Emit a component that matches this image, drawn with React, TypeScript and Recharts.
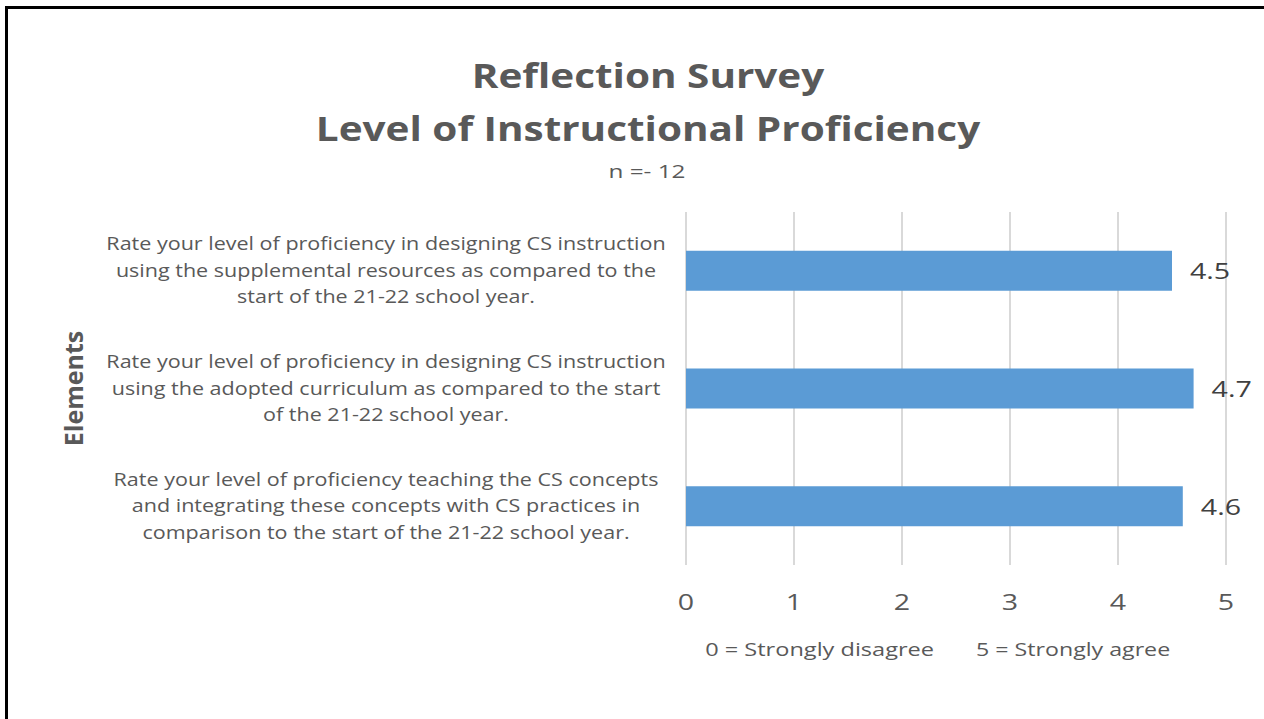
import React from "react";
import { BarChart, Bar, XAxis, YAxis, CartesianGrid, LabelList, Label } from "recharts";

const categoryLines: string[][] = [
  [
    "Rate your level of proficiency in designing CS instruction",
    "using the supplemental resources as compared to the",
    "start of the 21-22 school year.",
  ],
  [
    "Rate your level of proficiency in designing CS instruction",
    "using the adopted curriculum as compared to the start",
    "of the 21-22 school year.",
  ],
  [
    "Rate your level of proficiency teaching the CS concepts",
    "and integrating these concepts with CS practices in",
    "comparison to the start of the 21-22 school year.",
  ],
];
const categories: string[] = categoryLines.map((l) => l.join(" "));
const values: number[] = [4.5, 4.7, 4.6];
const xTicks: number[] = [0, 1, 2, 3, 4, 5];

const titleLines = ["Reflection Survey", "Level of Instructional Proficiency"];
const subtitle = "n =- 12";
const yAxisTitle = "Elements";
const scaleNote = ["0 = Strongly disagree", "5 = Strongly agree"];

const data = categories.map((name, i) => ({ name, value: values[i] }));

const GRAY = "#595959";
const FONT = "'Open Sans', sans-serif";

const CategoryTick = (props: any) => {
  const { x, y, payload } = props;
  const idx = categories.indexOf(payload.value);
  const lines = categoryLines[idx] || [payload.value];
  const lh = 26.5;
  const cx = x - 292;
  return (
    <text
      transform={`translate(${cx},${y}) scale(1.23,1)`}
      textAnchor="middle"
      fill={GRAY}
      fontSize={17.5}
      fontFamily={FONT}
    >
      {lines.map((l, i) => (
        <tspan key={i} x={0} y={(i - (lines.length - 1) / 2) * lh} dy="0.35em">
          {l}
        </tspan>
      ))}
    </text>
  );
};

const NumTick = (props: any) => {
  const { x, y, payload } = props;
  return (
    <text
      transform={`translate(${x},${y + 37}) scale(1.3,1)`}
      textAnchor="middle"
      fill={GRAY}
      fontSize={22}
      fontFamily={FONT}
    >
      {payload.value}
    </text>
  );
};

const ValueLabel = (props: any) => {
  const { x, y, width, height, value } = props;
  const lx = x + width + 18;
  const ly = y + height / 2;
  return (
    <text
      transform={`translate(${lx},${ly}) scale(1.3,1)`}
      textAnchor="start"
      dominantBaseline="central"
      fill="#404040"
      fontSize={22}
      fontFamily={FONT}
    >
      {value}
    </text>
  );
};

export default function App() {
  return (
    <div
      style={{
        position: "absolute",
        left: 5,
        top: 6,
        width: 1259,
        height: 713,
        borderLeft: "3px solid #000",
        borderTop: "3px solid #000",
        background: "#fff",
        fontFamily: FONT,
        overflow: "hidden",
      }}
    >
      <div
        style={{
          position: "absolute",
          left: 0,
          top: 40,
          width: 1280,
          textAlign: "center",
          color: GRAY,
          fontWeight: 700,
          fontSize: 34,
          lineHeight: "53px",
          transform: "scaleX(1.19)",
          transformOrigin: "640px 0",
        }}
      >
        <div>{titleLines[0]}</div>
        <div>{titleLines[1]}</div>
      </div>
      <div
        style={{
          position: "absolute",
          left: 0,
          top: 150,
          width: 1278,
          textAlign: "center",
          color: GRAY,
          fontSize: 18,
          transform: "scaleX(1.35)",
          transformOrigin: "639px 0",
        }}
      >
        {subtitle}
      </div>
      <div style={{ position: "absolute", left: 0, top: 0 }}>
        <BarChart
          width={1256}
          height={700}
          data={data}
          layout="vertical"
          margin={{ top: 203, right: 38, bottom: 54, left: 0 }}
          barCategoryGap="33%"
        >
          <CartesianGrid horizontal={false} stroke="#d9d9d9" strokeWidth={2} />
          <XAxis
            type="number"
            domain={[0, 5]}
            ticks={xTicks}
            axisLine={false}
            tickLine={false}
            tick={<NumTick />}
            height={90}
            interval={0}
          >
            <Label
              content={(p: any) => {
                const vb = p.viewBox;
                const cx = vb.x + vb.width / 2 - 22;
                const cy = vb.y + 91;
                return (
                  <g fill={GRAY} fontSize={19} fontFamily={FONT}>
                    <text transform={`translate(${cx},${cy}) scale(1.24,1)`} textAnchor="end">
                      {scaleNote[0]}
                    </text>
                    <text transform={`translate(${cx + 42},${cy}) scale(1.22,1)`} textAnchor="start">
                      {scaleNote[1]}
                    </text>
                  </g>
                );
              }}
            />
          </XAxis>
          <YAxis
            type="category"
            dataKey="name"
            width={678}
            axisLine={false}
            tickLine={false}
            tick={<CategoryTick />}
            interval={0}
          >
            <Label
              content={(p: any) => {
                const vb = p.viewBox;
                const cx = 65;
                const cy = vb.y + vb.height / 2;
                return (
                  <text
                    x={cx}
                    y={cy}
                    transform={`rotate(-90 ${cx} ${cy})`}
                    textAnchor="middle"
                    dominantBaseline="central"
                    fill={GRAY}
                    fontSize={25}
                    fontWeight={700}
                    fontFamily={FONT}
                  >
                    {yAxisTitle}
                  </text>
                );
              }}
            />
          </YAxis>
          <Bar dataKey="value" fill="#5B9BD5" isAnimationActive={false}>
            <LabelList dataKey="value" content={<ValueLabel />} />
          </Bar>
        </BarChart>
      </div>
    </div>
  );
}
